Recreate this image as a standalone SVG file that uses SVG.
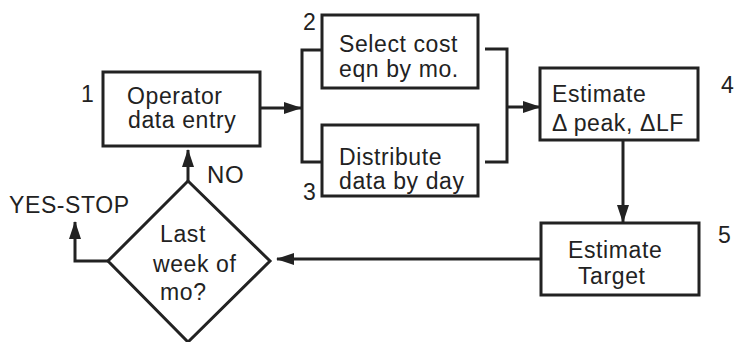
<svg xmlns="http://www.w3.org/2000/svg" width="735" height="342" viewBox="0 0 735 342">
<defs>
<style>
.box{fill:#fff;stroke:#222;stroke-width:3}
.ln{fill:none;stroke:#222;stroke-width:3}
text{font-family:"Liberation Sans",Arial,sans-serif;font-size:23px;letter-spacing:0.6px;fill:#222}
</style>
<marker id="ah" markerWidth="18" markerHeight="12" refX="17" refY="6" orient="auto" markerUnits="userSpaceOnUse">
<path d="M0,0 L18,6 L0,12 Z" fill="#222"/>
</marker>
</defs>
<rect width="735" height="342" fill="#fff"/>
<g id="connectors">
<line class="ln" x1="260" y1="108" x2="301" y2="108" marker-end="url(#ah)"/>
<path class="ln" d="M322,50 H302 V162 H322"/>
<path class="ln" d="M485,49 H507 V162 H485"/>
<line class="ln" x1="507" y1="107" x2="540" y2="107" marker-end="url(#ah)"/>
<line class="ln" x1="623" y1="140" x2="623" y2="222" marker-end="url(#ah)"/>
<line class="ln" x1="541" y1="259" x2="277" y2="259" marker-end="url(#ah)"/>
<line class="ln" x1="188" y1="181" x2="188" y2="150" marker-end="url(#ah)"/>
<path class="ln" d="M108,261 H75 V222" marker-end="url(#ah)"/>
</g>
<g id="n1">
<rect class="box" x="103" y="72" width="157" height="74"/>
<text x="127" y="104">Operator</text>
<text x="128" y="128">data entry</text>
<text x="81" y="102">1</text>
</g>
<g id="n2">
<rect class="box" x="322" y="15" width="156" height="73"/>
<text x="339" y="52">Select cost</text>
<text x="339" y="77">eqn by mo.</text>
<text x="303" y="30">2</text>
</g>
<g id="n3">
<rect class="box" x="322" y="125" width="156" height="71"/>
<text x="339" y="165">Distribute</text>
<text x="339" y="189">data by day</text>
<text x="303" y="200">3</text>
</g>
<g id="n4">
<rect class="box" x="540" y="68" width="158" height="72"/>
<text x="552" y="102">Estimate</text>
<text x="552" y="131">Δ peak, ΔLF</text>
<text x="721" y="93">4</text>
</g>
<g id="n5">
<rect class="box" x="541" y="223" width="158" height="72"/>
<text x="568" y="258">Estimate</text>
<text x="578" y="284">Target</text>
<text x="718" y="243">5</text>
</g>
<g id="d1">
<path class="box" d="M188,181 L270,261 L188,342 L108,261 Z"/>
<text x="160" y="242">Last</text>
<text x="153" y="272">week of</text>
<text x="160" y="300">mo?</text>
<text x="207" y="183" style="font-size:24px">NO</text>
<text x="9" y="213">YES-STOP</text>
</g>
</svg>
